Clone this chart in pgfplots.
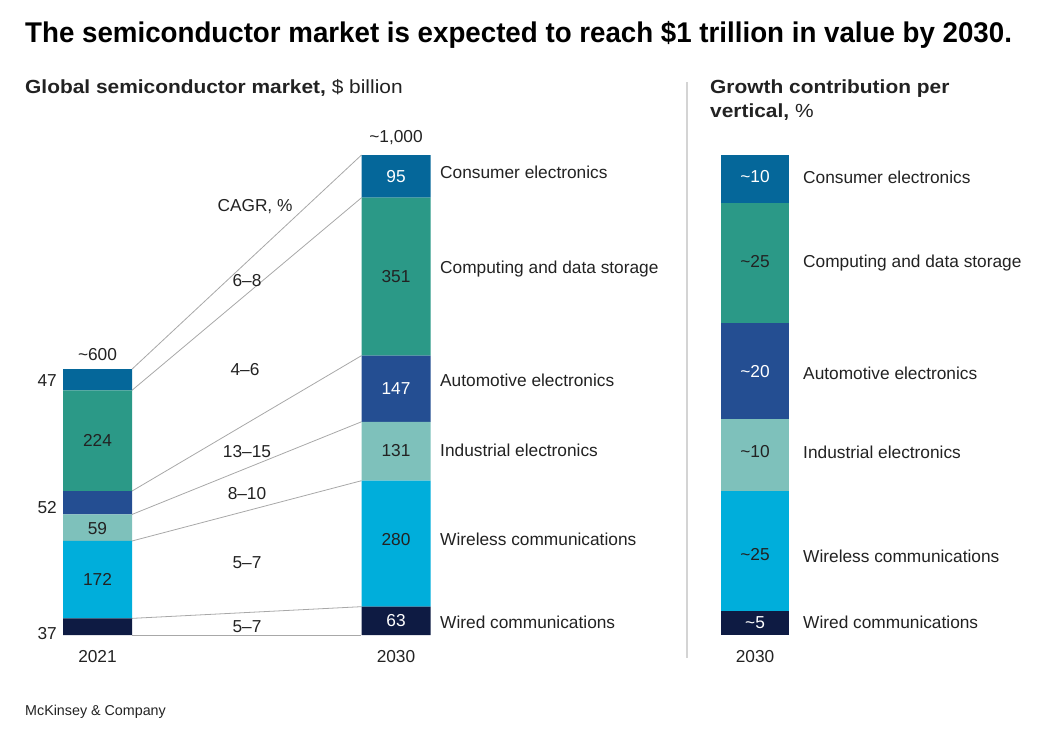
\documentclass[border=0pt]{standalone}
\usepackage{pgfplots}
\pgfplotsset{compat=1.18}
\usepackage{fontspec}
\setmainfont{Liberation Sans}
\definecolor{cons}{HTML}{05679A}
\definecolor{comp}{HTML}{2B9987}
\definecolor{auto}{HTML}{244E92}
\definecolor{indu}{HTML}{7EC1BB}
\definecolor{wless}{HTML}{00AEDB}
\definecolor{wired}{HTML}{0E1B43}
\definecolor{txt}{HTML}{222222}
\definecolor{conn}{HTML}{A8A8A8}
\definecolor{sep}{HTML}{D4D4D4}
\newcommand{\lab}{\fontsize{17.3}{20}\selectfont}
\newcommand{\sub}[1]{\scalebox{1.1}[1]{\fontsize{19}{22}\selectfont #1}}
\begin{document}
\begin{tikzpicture}[x=1pt,y=-1pt]
\path[use as bounding box] (0,0) rectangle (1041,740);
% title
\node[anchor=base west,inner sep=0,text=black] at (25,42) {\scalebox{0.972}[1]{\fontsize{28.5}{32}\selectfont\bfseries The semiconductor market is expected to reach \$1 trillion in value by 2030.}};
\node[anchor=base west,inner sep=0,text=txt] at (25,93) {\sub{\textbf{Global semiconductor market,} \$ billion}};
\node[anchor=base west,inner sep=0,text=txt] at (710,93) {\sub{\textbf{Growth contribution per}}};
\node[anchor=base west,inner sep=0,text=txt] at (710,117.5) {\sub{\textbf{vertical,} \%}};
\draw[sep,line width=1.5pt] (687,82) -- (687,658);
% connecting lines
\begin{axis}[at={(37.8pt,-635pt)},anchor=south west,scale only axis,width=417.9pt,height=480pt,
  xmin=-0.2,xmax=1.2,ymin=0,ymax=1067,axis lines=none,clip=false]
\addplot[conn,line width=0.8pt] coordinates {(0.1156,591) (0.8844,1067)};
\addplot[conn,line width=0.8pt] coordinates {(0.1156,544) (0.8844,972)};
\addplot[conn,line width=0.8pt] coordinates {(0.1156,320) (0.8844,621)};
\addplot[conn,line width=0.8pt] coordinates {(0.1156,268) (0.8844,474)};
\addplot[conn,line width=0.8pt] coordinates {(0.1156,209) (0.8844,343)};
\addplot[conn,line width=0.8pt] coordinates {(0.1156,37) (0.8844,63)};
\addplot[conn,line width=0.8pt] coordinates {(0.1156,0) (0.8844,0)};
\end{axis}
% stacked bars
\begin{axis}[at={(37.8pt,-635pt)},anchor=south west,scale only axis,width=417.9pt,height=480pt,
  xmin=-0.2,xmax=1.2,ymin=0,ymax=1067,axis lines=none,clip=false,
  ybar stacked,bar width=69pt]
\addplot[fill=wired,draw=none] coordinates {(0,37) (1,63)};
\addplot[fill=wless,draw=none] coordinates {(0,172) (1,280)};
\addplot[fill=indu,draw=none] coordinates {(0,59) (1,131)};
\addplot[fill=auto,draw=none] coordinates {(0,52) (1,147)};
\addplot[fill=comp,draw=none] coordinates {(0,224) (1,351)};
\addplot[fill=cons,draw=none] coordinates {(0,47) (1,95)};
\end{axis}
% right chart
\begin{axis}[at={(687pt,-635pt)},anchor=south west,scale only axis,width=136pt,height=480pt,
  xmin=-1,xmax=1,ymin=0,ymax=100,axis lines=none,clip=false,
  ybar stacked,bar width=68pt]
\addplot[fill=wired,draw=none] coordinates {(0,5)};
\addplot[fill=wless,draw=none] coordinates {(0,25)};
\addplot[fill=indu,draw=none] coordinates {(0,15)};
\addplot[fill=auto,draw=none] coordinates {(0,20)};
\addplot[fill=comp,draw=none] coordinates {(0,25)};
\addplot[fill=cons,draw=none] coordinates {(0,10)};
\end{axis}
\begin{scope}[every node/.style={font=\lab,text=txt,inner sep=0}]
% bar value labels
\node at (97.5,579.5) {172};
\node at (97.5,529) {59};
\node at (97.5,440) {224};
\node[text=white] at (396,621) {63};
\node at (396,540) {280};
\node at (396,450.5) {131};
\node[text=white] at (396,389) {147};
\node at (396,277) {351};
\node[text=white] at (396,176.5) {95};
\node[text=white] at (755,623) {\char`\~5};
\node at (755,555) {\char`\~25};
\node at (755,451.5) {\char`\~10};
\node[text=white] at (755,371.5) {\char`\~20};
\node at (755,262) {\char`\~25};
\node[text=white] at (755,177) {\char`\~10};
% outside labels left
\node[anchor=base east] at (57,386) {47};
\node[anchor=base east] at (57,513) {52};
\node[anchor=base east] at (57,639) {37};
\node[anchor=base] at (97.5,360) {\char`\~600};
\node[anchor=base] at (396,142) {\char`\~1,000};
\node[anchor=base] at (97.5,662) {2021};
\node[anchor=base] at (396,662) {2030};
\node[anchor=base] at (755,662) {2030};
% CAGR
\node[anchor=base] at (255,211) {CAGR, \%};
\node[anchor=base] at (247,286) {6--8};
\node[anchor=base] at (245,375) {4--6};
\node[anchor=base] at (247,457) {13--15};
\node[anchor=base] at (247,499) {8--10};
\node[anchor=base] at (247,568) {5--7};
\node[anchor=base] at (247,632) {5--7};
% categories middle
\node[anchor=base west] at (440,178) {Consumer electronics};
\node[anchor=base west] at (440,273) {Computing and data storage};
\node[anchor=base west] at (440,386) {Automotive electronics};
\node[anchor=base west] at (440,456) {Industrial electronics};
\node[anchor=base west] at (440,545) {Wireless communications};
\node[anchor=base west] at (440,628) {Wired communications};
% categories right
\node[anchor=base west] at (803,183) {Consumer electronics};
\node[anchor=base west] at (803,267) {Computing and data storage};
\node[anchor=base west] at (803,379) {Automotive electronics};
\node[anchor=base west] at (803,458) {Industrial electronics};
\node[anchor=base west] at (803,562) {Wireless communications};
\node[anchor=base west] at (803,628) {Wired communications};
\end{scope}
\node[anchor=base west,inner sep=0,text=txt] at (25,715) {\fontsize{14.3}{17}\selectfont McKinsey \& Company};
\end{tikzpicture}
\end{document}
